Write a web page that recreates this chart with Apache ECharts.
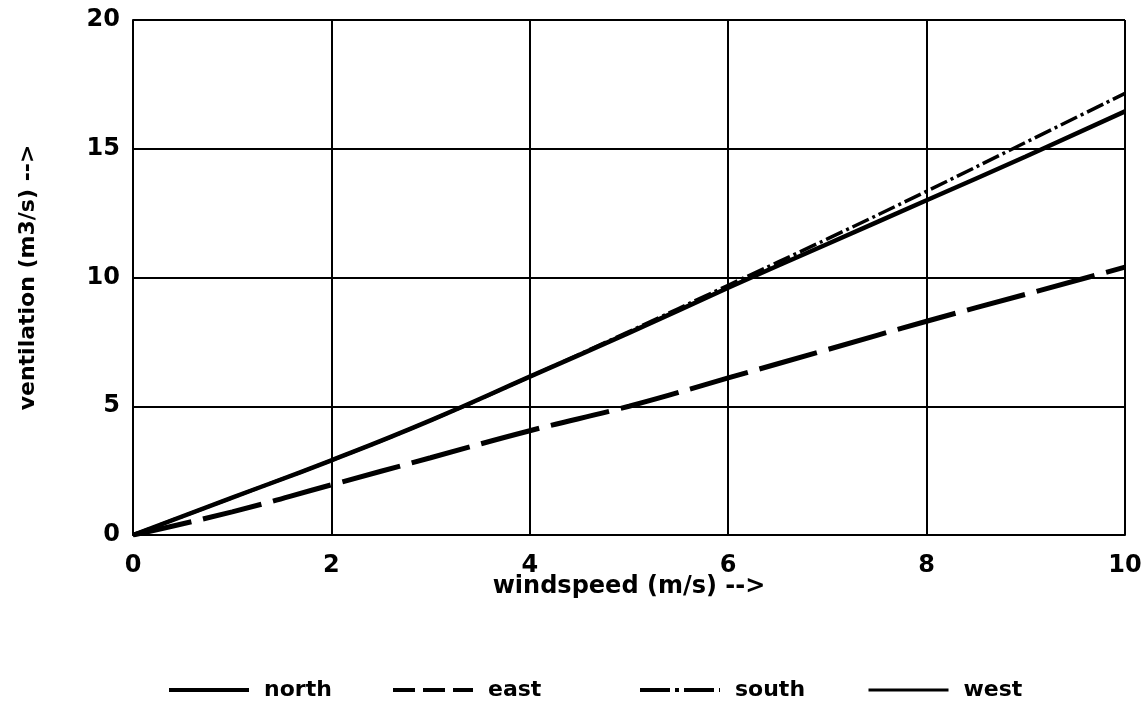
<!DOCTYPE html>
<html><head><meta charset="utf-8">
<script src="https://cdn.jsdelivr.net/npm/echarts@6/dist/echarts.min.js"></script>
<style>html,body{margin:0;padding:0;background:#fff}#c{width:1148px;height:717px}</style>
</head><body><div id="c"></div>
<script>
const windspeed = [0,1,2,3,4,5,6,7,8,9,10];
const north = [0,1.45,2.9,4.45,6.15,7.85,9.6,11.3,13.0,14.7,16.45];
const east  = [0,0.9,1.95,3.0,4.05,5.0,6.1,7.2,8.3,9.35,10.4];
const south = [0,1.45,2.9,4.45,6.15,7.9,9.7,11.5,13.35,15.25,17.15];
const west  = [0,1.45,2.9,4.45,6.15,7.85,9.6,11.3,13.0,14.7,16.45];
const xTicks = [0,2,4,6,8,10];
const yTicks = [0,5,10,15,20];

const FONT = 'DejaVu Sans';
const pair = (xs, ys) => xs.map((x,i)=>[x, ys[i]]);
const chart = echarts.init(document.getElementById('c'), null, {renderer:'canvas'});
const legendText = {fontFamily:FONT, fontWeight:'bold', fontSize:22, color:'#000'};
function lg(name, left, ls){
  return {data:[name], left:left, top:674, itemWidth:80, itemHeight:14, itemGap:10,
    itemStyle:{opacity:0}, lineStyle:ls,
    textStyle:Object.assign({padding:[0,0,0,10]}, legendText), selectedMode:false};
}
chart.setOption({
  animation:false,
  backgroundColor:'#fff',
  grid:{left:133, right:23, top:20, bottom:182},
  legend:[
    lg('north',162,{color:'#000', width:4, type:'solid'}),
    lg('east',386,{color:'#000', width:4, type:[22,8]}),
    lg('south',633,{color:'#000', width:4, type:[30,5,4,5]}),
    lg('west',862,{color:'#000', width:3, type:'solid'})],
  xAxis:{type:'value', min:0, max:10, interval:2,
    name:'windspeed (m/s) -->', nameLocation:'middle', nameGap:40, nameMoveOverlap:false,
    nameTextStyle:{fontFamily:FONT, fontWeight:'bold', fontSize:24, color:'#000'},
    axisLine:{show:true, lineStyle:{color:'#000', width:2}},
    axisTick:{show:false},
    axisLabel:{fontFamily:FONT, fontWeight:'bold', fontSize:24, color:'#000', margin:19,
      formatter:v=>xTicks.includes(v)?String(v):''},
    splitLine:{show:true, lineStyle:{color:'#000', width:2}}},
  yAxis:{type:'value', min:0, max:20, interval:5,
    name:'ventilation (m3/s) -->', nameLocation:'middle', nameGap:94, nameRotate:90, nameMoveOverlap:false,
    nameTextStyle:{fontFamily:FONT, fontWeight:'bold', fontSize:22, color:'#000'},
    axisLine:{show:true, lineStyle:{color:'#000', width:2}},
    axisTick:{show:false},
    axisLabel:{fontFamily:FONT, fontWeight:'bold', fontSize:24, color:'#000', margin:13,
      formatter:v=>yTicks.includes(v)?String(v):''},
    splitLine:{show:true, lineStyle:{color:'#000', width:2}}},
  series:[
    {name:'north', type:'line', data:pair(windspeed,north), showSymbol:false, symbol:'none', smooth:true,
      lineStyle:{color:'#000', width:4.5, type:'solid'}, itemStyle:{color:'#000'}},
    {name:'east', type:'line', data:pair(windspeed,east), showSymbol:false, symbol:'none', smooth:true,
      lineStyle:{color:'#000', width:5, type:[60,12]}, itemStyle:{color:'#000'}},
    {name:'south', type:'line', data:pair(windspeed,south), showSymbol:false, symbol:'none', smooth:true,
      lineStyle:{color:'#000', width:3.5, type:[18,4,3,4]}, itemStyle:{color:'#000'}},
    {name:'west', type:'line', data:pair(windspeed,west), showSymbol:false, symbol:'none', smooth:true,
      lineStyle:{color:'#000', width:2, type:'solid'}, itemStyle:{color:'#000'}}
  ]
});
</script></body></html>
